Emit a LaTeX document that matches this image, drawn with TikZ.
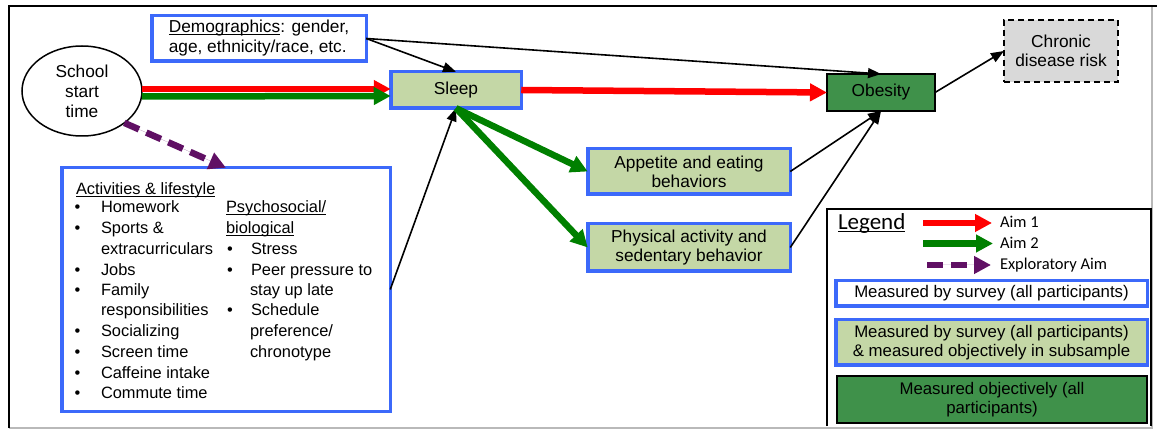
\documentclass[tikz,border=0pt]{standalone}
\usepackage{fontspec}
\setmainfont{Liberation Sans}
\newfontfamily\calfont{Carlito}
\usetikzlibrary{arrows.meta,shapes.geometric}
\definecolor{blueb}{RGB}{60,105,250}
\definecolor{lightg}{RGB}{196,215,166}
\definecolor{darkg}{RGB}{63,145,74}
\definecolor{grayf}{RGB}{217,217,217}
\definecolor{redA}{RGB}{255,0,0}
\definecolor{greenA}{RGB}{0,128,0}
\definecolor{purpA}{RGB}{96,16,100}
\newcommand\mainsz{\fontsize{17.3}{19}\selectfont}
\newcommand\lstsz{\fontsize{16.4}{20}\selectfont}
\newcommand\boxsz{\fontsize{16.8}{19}\selectfont}
\newcommand\ulx[1]{$\underline{\smash{\hbox{#1}}}$}
\begin{document}
\begin{tikzpicture}[x=1pt,y=-1pt,
  every node/.style={inner sep=0pt,outer sep=0pt},
  bluebox/.style={draw=blueb,line width=3.5pt,rectangle,align=center,font=\mainsz},
  lst/.style={anchor=base west,font=\lstsz},
  aimtxt/.style={anchor=base west,font=\calfont\fontsize{16.5}{19}\selectfont},
  thickarr/.style={line width=6.5pt,-{Triangle[length=17pt,width=17pt]}},
  thinarr/.style={line width=1.6pt,-{Triangle[length=13pt,width=10pt]}},
  purpdash/.style={thickarr,draw=purpA,dash pattern=on 16pt off 8pt}]
\useasboundingbox (0,0) rectangle (1157,430);
% frame
\draw[gray!55,line width=1.5pt] (9,428) -- (1152,428) -- (1152,6);
% legend box
\draw[black,line width=1.5pt] (827,426) -- (827,209) -- (1151,209) -- (1151,426);
\draw[black,line width=1.5pt] (9,428) -- (9,6) -- (1157,6);

% main nodes
\node[ellipse,draw,line width=1.5pt,fill=white,minimum width=120pt,minimum height=90pt,align=center,font=\mainsz] (sst) at (82,91) {School\\[1pt]start\\[1pt]time};
\node[bluebox,fill=white,minimum width=214.5pt,minimum height=45.5pt,align=left] (demo) at (259,38.5) {\ulx{Demographics}: gender,\\[1pt]age, ethnicity/race, etc.};
\node[bluebox,fill=lightg,minimum width=130.5pt,minimum height=36.5pt] (sleep) at (456,90) {Sleep};
\node[draw=black,line width=2pt,fill=darkg,minimum width=108pt,minimum height=37pt,font=\mainsz] (ob) at (881,92.5) {Obesity};
\node[draw=black,line width=2pt,dash pattern=on 6pt off 4pt,fill=grayf,minimum width=114pt,minimum height=62pt,align=center,font=\mainsz] (chr) at (1061,51) {Chronic\\disease risk};
\node[bluebox,fill=lightg,minimum width=202.5pt,minimum height=45.5pt] (app) at (689,171.5) {Appetite and eating\\behaviors};
\node[bluebox,fill=lightg,minimum width=202.5pt,minimum height=47.5pt] (phy) at (689,247.5) {Physical activity and\\sedentary behavior};
\node[bluebox,fill=white,minimum width=328.5pt,minimum height=243.5pt] (act) at (226,289.5) {};

% activities text
\node[lst] (t0) at (76,195) {\ulx{Activities \& lifestyle}};
\foreach \yy [count=\i] in {213,234,276,296,337,358,378,399}
  \node[lst] (bl\i) at (74.5,\yy) {•};
\node[lst] (t1) at (101,213) {Homework};
\node[lst] (t2) at (101,234) {Sports \&};
\node[lst] (t3) at (101,255) {extracurriculars};
\node[lst] (t4) at (101,276) {Jobs};
\node[lst] (t5) at (101,296) {Family};
\node[lst] (t6) at (101,316) {responsibilities};
\node[lst] (t7) at (101,337) {Socializing};
\node[lst] (t8) at (101,358) {Screen time};
\node[lst] (t9) at (101,378) {Caffeine intake};
\node[lst] (t10) at (101,399) {Commute time};
\node[lst] (p0) at (226,213) {\ulx{Psychosocial/}};
\node[lst] (p1) at (226,234) {\ulx{biological}};
\foreach \yy [count=\i] in {255,276,316}
  \node[lst] (br\i) at (227,\yy) {•};
\node[lst] (p2) at (251,255) {Stress};
\node[lst] (p3) at (251,276) {Peer pressure to};
\node[lst] (p4) at (250,296) {stay up late};
\node[lst] (p5) at (251,316) {Schedule};
\node[lst] (p6) at (250,337) {preference/};
\node[lst] (p7) at (250,358) {chronotype};

% legend
\node[anchor=base west,font=\calfont\fontsize{23}{26}\selectfont] (lg) at (838,230) {\ulx{Legend}};
\coordinate (r1) at (923,223); \coordinate (r2) at (992,223);
\coordinate (g1) at (923,243.5); \coordinate (g2) at (993,243.5);
\coordinate (q1) at (927,265); \coordinate (q2) at (991,265);
\draw[thickarr,draw=redA,fill=redA] (r1) -- (r2);
\draw[thickarr,draw=greenA,fill=greenA] (g1) -- (g2);
\draw[purpdash,fill=purpA] (q1) -- (q2);
\node[aimtxt] (a1) at (1000,228) {Aim 1};
\node[aimtxt] (a2) at (1000,249) {Aim 2};
\node[aimtxt] (a3) at (1000,270) {Exploratory Aim};
\node[bluebox,fill=white,minimum width=311.5pt,minimum height=25.5pt,font=\boxsz] (m1) at (991.5,293.5) {Measured by survey (all participants)};
\node[bluebox,fill=lightg,minimum width=311.5pt,minimum height=45.5pt,font=\boxsz] (m2) at (991.5,342.5) {Measured by survey (all participants)\\\& measured objectively in subsample};
\node[draw=black,line width=2pt,fill=darkg,minimum width=310pt,minimum height=47pt,align=center,font=\boxsz] (m3) at (992,399.5) {Measured objectively (all\\participants)};

% connectors
\draw[thinarr] (demo.east) -- (sleep.north);
\draw[thinarr] (demo.east) -- (ob.north);
\draw[thinarr] (act.east) -- (sleep.south);
\draw[thinarr] (app.east) -- (ob.south);
\draw[thinarr] (phy.east) -- (ob.south);
\draw[thinarr] (ob.east) -- (chr.west);
\draw[thickarr,draw=redA,fill=redA] ([yshift=2pt]sst.east) -- ([yshift=1pt]sleep.west);
\draw[thickarr,draw=greenA,fill=greenA] ([yshift=-5.5pt]sst.east) -- ([yshift=-6pt]sleep.west);
\draw[thickarr,draw=redA,fill=redA] (sleep.east) -- (ob.west);
\draw[thickarr,draw=greenA,fill=greenA] (sleep.south) -- (app.west);
\draw[thickarr,draw=greenA,fill=greenA] (sleep.south) -- (phy.west);
\draw[purpdash,fill=purpA] (sst.-37) -- (act.north);
\end{tikzpicture}
\end{document}
